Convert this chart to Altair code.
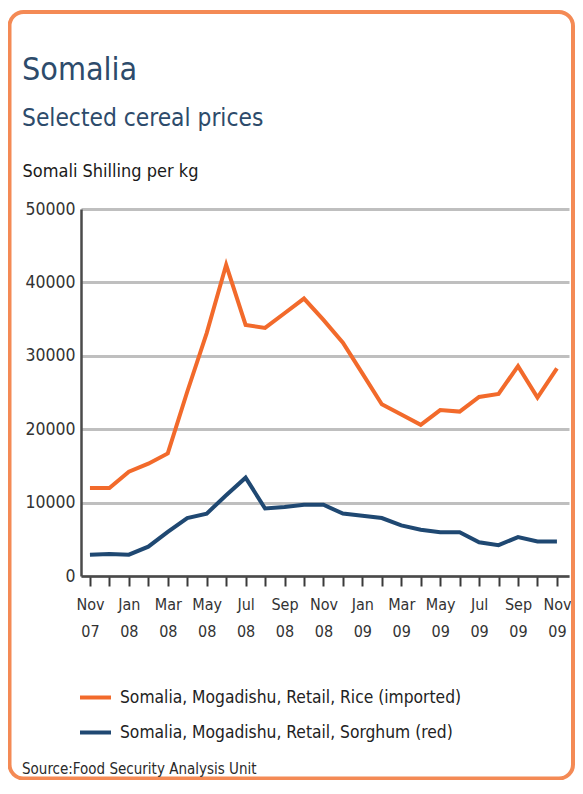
import json
import altair as alt
import pandas as pd

# ---- data ----
month_index = list(range(25))  # 0 = Nov 2007 ... 24 = Nov 2009
rice = [12000, 12000, 14200, 15300, 16700, 25100, 33100, 42400, 34200, 33800,
        35800, 37800, 34900, 31800, 27600, 23400, 22000, 20600, 22600, 22400,
        24400, 24800, 28600, 24300, 28300]
sorghum = [2900, 3000, 2900, 4000, 6000, 7900, 8500, 11000, 13400, 9200,
           9400, 9700, 9700, 8500, 8200, 7900, 6900, 6300, 5950, 5950,
           4600, 4200, 5300, 4700, 4700]
series_names = ["Somalia, Mogadishu, Retail, Rice (imported)",
                "Somalia, Mogadishu, Retail, Sorghum (red)"]
series_colors = ["#f26a2b", "#1f4872"]
tick_labels = [["Nov", "07"], ["Jan", "08"], ["Mar", "08"], ["May", "08"],
               ["Jul", "08"], ["Sep", "08"], ["Nov", "08"], ["Jan", "09"],
               ["Mar", "09"], ["May", "09"], ["Jul", "09"], ["Sep", "09"],
               ["Nov", "09"]]
y_ticks = [0, 10000, 20000, 30000, 40000, 50000]
title_text = ["Somalia"]
subtitle_text = ["Selected cereal prices"]
ytitle_text = "Somali Shilling per kg"
source_text = ["Source:Food Security Analysis Unit"]

FONT = "DejaVu Sans Condensed, sans-serif"
TITLE_COLOR = "#2d4b6b"

df = pd.DataFrame({
    "idx": month_index * 2,
    "price": rice + sorghum,
    "series": [series_names[0]] * len(rice) + [series_names[1]] * len(sorghum),
})

label_expr = ("datum.value % 2 == 0 ? " + json.dumps(tick_labels)
              + "[datum.value / 2] : ''")

lines = alt.Chart(df).mark_line(strokeWidth=4, strokeJoin="miter").encode(
    x=alt.X("idx:Q",
            scale=alt.Scale(domain=[-0.46, 24.62], nice=False, zero=False),
            axis=alt.Axis(values=month_index, labelExpr=label_expr, title=None,
                          grid=False, tickSize=10, tickWidth=2, tickColor="#3a3a3a",
                          domainColor="#4a4a4a", domainWidth=2.5,
                          labelFont=FONT, labelFontSize=16, labelColor="#333333",
                          labelLineHeight=27, labelPadding=10, labelBaseline="top",
                          labelFlush=False, labelOverlap=False)),
    y=alt.Y("price:Q",
            scale=alt.Scale(domain=[0, 50000], nice=False),
            axis=alt.Axis(values=y_ticks, format="d", title=ytitle_text,
                          titleAngle=0, titleX=-59, titleY=-33, titleAlign="left",
                          titleBaseline="alphabetic", titleFont=FONT,
                          titleFontSize=18, titleFontWeight="normal",
                          titleColor="#1a1a1a", tickSize=0, labelPadding=6,
                          labelFont=FONT, labelFontSize=17.5, labelColor="#333333",
                          domainColor="#4a4a4a", domainWidth=2.5,
                          gridColor="#bfbfbf", gridWidth=3)),
    color=alt.Color("series:N",
                    scale=alt.Scale(domain=series_names, range=series_colors),
                    legend=alt.Legend(orient="none", legendX=-3, legendY=471,
                                      title=None, symbolType="stroke",
                                      symbolSize=961, symbolStrokeWidth=4,
                                      labelFont=FONT, labelFontSize=17.3,
                                      labelColor="#222222", labelOffset=7,
                                      labelLimit=0, rowPadding=9, padding=0,
                                      direction="vertical")),
)

one = pd.DataFrame({"k": [0]})
border = alt.Chart(one).mark_rect(filled=False, stroke="#f48a55", strokeWidth=4,
                                  cornerRadius=14).encode(
    x=alt.value(-71.5), x2=alt.value(492), y=alt.value(-197), y2=alt.value(569.5))

title = alt.Chart(pd.DataFrame({"t": title_text})).mark_text(
    font=FONT, fontSize=32, color=TITLE_COLOR, align="left",
    baseline="alphabetic").encode(text="t:N", x=alt.value(-59), y=alt.value(-129))
subtitle = alt.Chart(pd.DataFrame({"t": subtitle_text})).mark_text(
    font=FONT, fontSize=24.3, color=TITLE_COLOR, align="left",
    baseline="alphabetic").encode(text="t:N", x=alt.value(-59), y=alt.value(-83))
source = alt.Chart(pd.DataFrame({"t": source_text})).mark_text(
    font=FONT, fontSize=15, color="#2a2a2a", align="left",
    baseline="alphabetic").encode(text="t:N", x=alt.value(-59), y=alt.value(565))

chart = alt.layer(border, lines, title, subtitle, source).properties(
    width=488, height=367, autosize="none",
    padding={"left": 73, "top": 201, "right": 6, "bottom": 204},
    background="white",
).configure_view(stroke=None)

chart.save("out.html", embed_options={"renderer": "svg", "actions": False})
